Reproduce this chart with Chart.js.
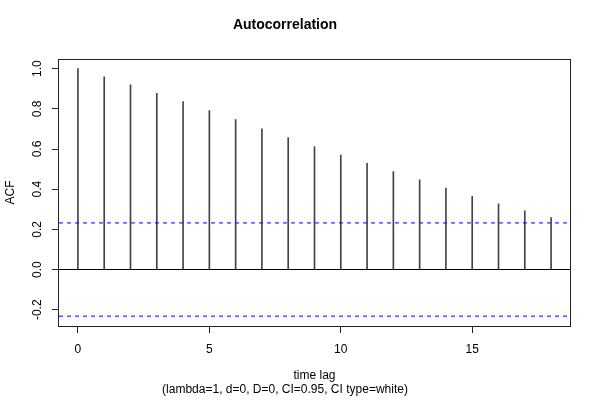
<!DOCTYPE html>
<html>
<head>
<meta charset="utf-8">
<style>
  html, body { margin: 0; padding: 0; background: #fff; }
  #wrap { width: 600px; height: 400px; }
</style>
<script src="https://cdn.jsdelivr.net/npm/chart.js@4.4.1/dist/chart.umd.min.js"></script>
</head>
<body>
<div id="wrap"><canvas id="acfChart" width="600" height="400"></canvas></div>
<script>
// acf values, lag 0..18
const lags = [0, 1, 2, 3, 4, 5, 6, 7, 8, 9, 10, 11, 12, 13, 14, 15, 16, 17, 18];
const acfValues = [1.000, 0.959, 0.920, 0.877, 0.836, 0.791, 0.746, 0.701, 0.657, 0.612,
                   0.570, 0.529, 0.488, 0.446, 0.405, 0.365, 0.327, 0.292, 0.259];
const ciLimit = 0.232;
const xTicks = [0, 5, 10, 15];
const yTicks = [-0.2, 0.0, 0.2, 0.4, 0.6, 0.8, 1.0];

const FONT = '"Liberation Sans", Arial, Helvetica, sans-serif';
const xMin = -0.72, xMax = 18.72;
const yMin = -0.281, yMax = 1.049;

// R-style box around the plot region + vertical y tick labels
const boxPlugin = {
  id: 'rBox',
  afterDraw(chart) {
    const { ctx, chartArea: a, scales } = chart;
    ctx.save();
    ctx.strokeStyle = '#222';
    ctx.lineWidth = 1;
    ctx.strokeRect(Math.round(a.left) - 0.5, Math.round(a.top) + 0.5,
                   Math.round(a.right - a.left) + 1, Math.round(a.bottom - a.top));
    ctx.fillStyle = '#000';
    ctx.font = '12px ' + FONT;
    ctx.textAlign = 'center';
    ctx.textBaseline = 'middle';
    yTicks.forEach(v => {
      const py = scales.y.getPixelForValue(v);
      ctx.save();
      ctx.translate(38, py);
      ctx.rotate(-Math.PI / 2);
      ctx.fillText(v.toFixed(1), 0, 0);
      ctx.restore();
    });
    ctx.restore();
  }
};

const ctx = document.getElementById('acfChart').getContext('2d');

const data = {
  datasets: [
    {
      type: 'bar',
      data: lags.map((l, i) => ({ x: l, y: acfValues[i] })),
      backgroundColor: '#444',
      barThickness: 1,
      order: 2
    },
    {
      type: 'line',
      data: [{ x: xMin, y: ciLimit }, { x: xMax, y: ciLimit }],
      borderColor: '#0000ff',
      borderWidth: 1,
      borderDash: [4, 4],
      pointRadius: 0,
      order: 1
    },
    {
      type: 'line',
      data: [{ x: xMin, y: -ciLimit }, { x: xMax, y: -ciLimit }],
      borderColor: '#0000ff',
      borderWidth: 1,
      borderDash: [4, 4],
      pointRadius: 0,
      order: 1
    }
  ]
};

const config = {
  type: 'bar',
  data: data,
  options: {
    responsive: false,
    animation: false,
    layout: { padding: { left: 0, right: 30, top: 0, bottom: 0 } },
    plugins: {
      legend: { display: false },
      tooltip: { enabled: false },
      title: {
        display: true,
        text: 'Autocorrelation',
        color: '#000',
        font: { family: FONT, size: 14, weight: 'bold', lineHeight: 1.2 },
        padding: { top: 17, bottom: 25 }
      },
      subtitle: {
        display: true,
        position: 'bottom',
        text: '(lambda=1, d=0, D=0, CI=0.95, CI type=white)',
        color: '#000',
        font: { family: FONT, size: 12, lineHeight: 1.2 },
        padding: { top: 0, bottom: 3 }
      }
    },
    scales: {
      x: {
        type: 'linear',
        min: xMin,
        max: xMax,
        offset: false,
        afterBuildTicks: s => { s.ticks = xTicks.map(v => ({ value: v })); },
        afterFit: s => { s.height = 56.6; },
        ticks: {
          color: '#000',
          font: { family: FONT, size: 12 },
          padding: 9,
          maxRotation: 0,
          callback: v => String(v)
        },
        grid: {
          offset: false,
          drawOnChartArea: false,
          drawTicks: true,
          tickLength: 7,
          color: '#222'
        },
        border: { display: false },
        title: {
          display: true,
          text: 'time lag',
          color: '#000',
          font: { family: FONT, size: 12, lineHeight: 1.2 },
          padding: { top: 0, bottom: 0 }
        }
      },
      y: {
        type: 'linear',
        min: yMin,
        max: yMax,
        afterBuildTicks: s => { s.ticks = yTicks.map(v => ({ value: v })); },
        afterFit: s => { s.width = 59; },
        ticks: { display: false },
        grid: {
          drawOnChartArea: true,
          drawTicks: true,
          tickLength: 7,
          tickColor: '#222',
          color: c => (c.tick && Math.abs(c.tick.value) < 1e-9 ? '#000' : 'rgba(0,0,0,0)')
        },
        border: { display: false },
        title: {
          display: true,
          text: 'ACF',
          color: '#000',
          font: { family: FONT, size: 12, lineHeight: 1.2 },
          padding: { top: 3, bottom: 0 }
        }
      }
    }
  },
  plugins: [boxPlugin]
};

const acfChart = new Chart(ctx, config);
</script>
</body>
</html>
